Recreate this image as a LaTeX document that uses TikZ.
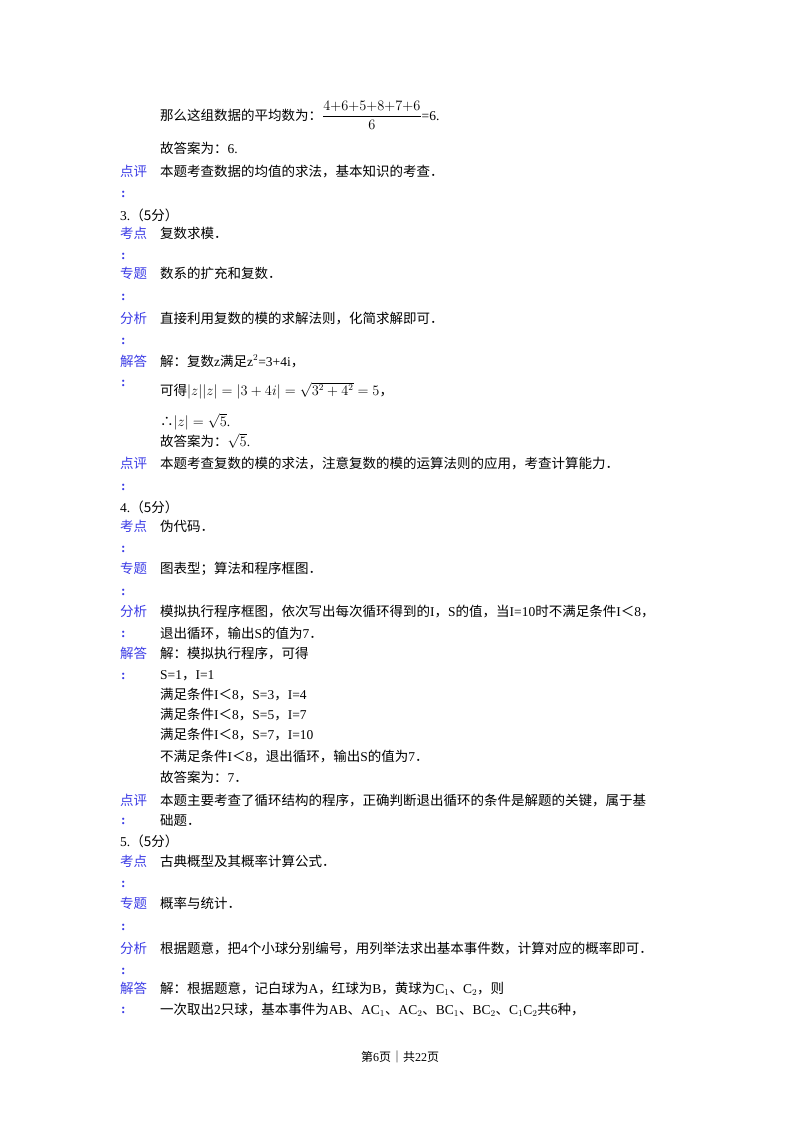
\documentclass[tikz,border=0pt]{standalone}
\usepackage{amsmath}
\usepackage{fontspec}
\setmainfont{Liberation Serif}
\newfontfamily\cjk{Noto Sans CJK SC}
\newcommand\Z[1]{{\cjk #1}}
\definecolor{lab}{RGB}{60,60,230}
\begin{document}
\begin{tikzpicture}[x=1pt,y=-1pt,
  tx/.style={anchor=base west,inner sep=0pt,font=\fontsize{13.5}{14}\selectfont},
  lb/.style={tx,text=lab},
  cl/.style={tx,text=lab,font=\fontsize{13.5}{14}\selectfont\bfseries}]
\useasboundingbox (0,0) rectangle (800,1132);
\fill[white] (0,0) rectangle (800,1132);
\node[tx] (l1) at (160,120) {\Z{那么这组数据的平均数为：}$\dfrac{4{+}6{+}5{+}8{+}7{+}6}{6}$=6.};
\node[tx] (l2) at (160,153) {\Z{故答案为：}6.};
\node[lb] (p1) at (120,176) {\Z{点评}};
\node[tx] (l3) at (160,176) {\Z{本题考查数据的均值的求法，基本知识的考查．}};
\node[cl] (c1) at (121,197) {:};
\node[tx] (q3) at (120,220) {3.\Z{（5分）}};
\node[lb] (k3) at (120,238) {\Z{考点}};
\node[tx] (k3t) at (160,238) {\Z{复数求模．}};
\node[cl] (c2) at (121,259) {:};
\node[lb] (z3) at (120,278) {\Z{专题}};
\node[tx] (z3t) at (160,278) {\Z{数系的扩充和复数．}};
\node[cl] (c3) at (121,300) {:};
\node[lb] (f3) at (120,323) {\Z{分析}};
\node[tx] (f3t) at (160,323) {\Z{直接利用复数的模的求解法则，化简求解即可．}};
\node[cl] (c4) at (121,344) {:};
\node[lb] (j3) at (120,366) {\Z{解答}};
\node[tx] (j3t) at (160,366) {\Z{解：复数}z\Z{满足}z$^2$=3+4i\Z{，}};
\node[cl] (c5) at (121,386) {:};
\node[tx] (j3b) at (160,395) {\Z{可得}$|z||z|=|3+4i|=\sqrt{3^2+4^2}=5$\Z{，}};
\node[tx] (j3c) at (160,426) {\Z{∴}$|z|=\sqrt{5}$.};
\node[tx] (j3d) at (160,446) {\Z{故答案为：}$\sqrt{5}$.};
\node[lb] (p3) at (120,468) {\Z{点评}};
\node[tx] (p3t) at (160,468) {\Z{本题考查复数的模的求法，注意复数的模的运算法则的应用，考查计算能力．}};
\node[cl] (c6) at (121,490) {:};
\node[tx] (q4) at (120,512) {4.\Z{（5分）}};
\node[lb] (k4) at (120,531) {\Z{考点}};
\node[tx] (k4t) at (160,531) {\Z{伪代码．}};
\node[cl] (c7) at (121,552) {:};
\node[lb] (z4) at (120,573) {\Z{专题}};
\node[tx] (z4t) at (160,573) {\Z{图表型；算法和程序框图．}};
\node[cl] (c8) at (121,595) {:};
\node[lb] (f4) at (120,616) {\Z{分析}};
\node[tx] (f4t) at (160,616) {\Z{模拟执行程序框图，依次写出每次循环得到的}I\Z{，}S\Z{的值，当}I=10\Z{时不满足条件}I\Z{＜}8\Z{，}};
\node[cl] (c9) at (121,637) {:};
\node[tx] (f4b) at (160,638) {\Z{退出循环，输出}S\Z{的值为}7\Z{．}};
\node[lb] (j4) at (120,658) {\Z{解答}};
\node[tx] (j4t) at (160,658) {\Z{解：模拟执行程序，可得}};
\node[cl] (c10) at (121,679) {:};
\node[tx] (s1) at (160,679) {S=1\Z{，}I=1};
\node[tx] (s2) at (160,699) {\Z{满足条件}I\Z{＜}8\Z{，}S=3\Z{，}I=4};
\node[tx] (s3) at (160,719) {\Z{满足条件}I\Z{＜}8\Z{，}S=5\Z{，}I=7};
\node[tx] (s4) at (160,739) {\Z{满足条件}I\Z{＜}8\Z{，}S=7\Z{，}I=10};
\node[tx] (s5) at (160,761) {\Z{不满足条件}I\Z{＜}8\Z{，退出循环，输出}S\Z{的值为}7\Z{．}};
\node[tx] (s6) at (160,782) {\Z{故答案为：}7\Z{．}};
\node[lb] (p4) at (120,805) {\Z{点评}};
\node[tx] (p4t) at (160,805) {\Z{本题主要考查了循环结构的程序，正确判断退出循环的条件是解题的关键，属于基}};
\node[cl] (c11) at (121,824) {:};
\node[tx] (p4b) at (160,825) {\Z{础题．}};
\node[tx] (q5) at (120,846) {5.\Z{（5分）}};
\node[lb] (k5) at (120,866) {\Z{考点}};
\node[tx] (k5t) at (160,866) {\Z{古典概型及其概率计算公式．}};
\node[cl] (c12) at (121,887) {:};
\node[lb] (z5) at (120,908) {\Z{专题}};
\node[tx] (z5t) at (160,908) {\Z{概率与统计．}};
\node[cl] (c13) at (121,930) {:};
\node[lb] (f5) at (120,953) {\Z{分析}};
\node[tx] (f5t) at (160,953) {\Z{根据题意，把}4\Z{个小球分别编号，用列举法求出基本事件数，计算对应的概率即可．}};
\node[cl] (c14) at (121,974) {:};
\node[lb] (j5) at (120,993) {\Z{解答}};
\node[tx] (j5t) at (160,993) {\Z{解：根据题意，记白球为}A\Z{，红球为}B\Z{，黄球为}C$_1$\Z{、}C$_2$\Z{，则}};
\node[cl] (c15) at (121,1013) {:};
\node[tx] (j5b) at (160,1014) {\Z{一次取出}2\Z{只球，基本事件为}AB\Z{、}AC$_1$\Z{、}AC$_2$\Z{、}BC$_1$\Z{、}BC$_2$\Z{、}C$_1$C$_2$\Z{共}6\Z{种，}};
\node[tx,anchor=base,font=\fontsize{12}{12}\selectfont] (foot) at (400,1061) {\Z{第}6\Z{页｜共}22\Z{页}};
\end{tikzpicture}
\end{document}
